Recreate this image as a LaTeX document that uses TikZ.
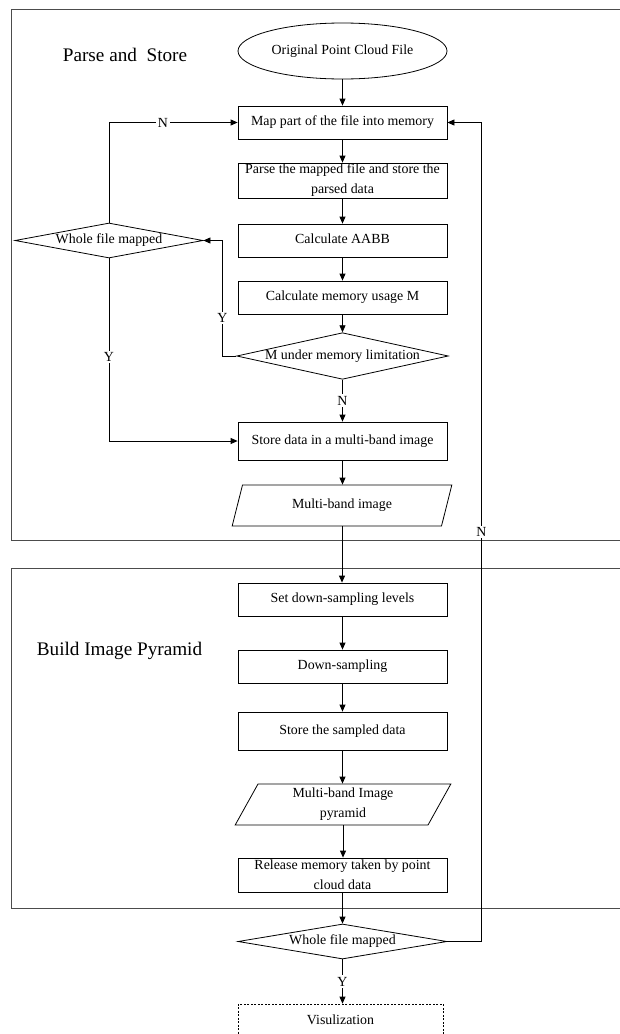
\documentclass[tikz,border=0pt]{standalone}
\usepackage{fontspec}
\setmainfont{Liberation Serif}
\usetikzlibrary{shapes.geometric,arrows.meta}
\begin{document}
\begin{tikzpicture}[x=1pt,y=-1pt,
  every node/.style={font=\fontsize{13.9}{20}\selectfont},
  frame/.style={draw=black!70,line width=0.9pt},
  procbox/.style={draw,line width=0.8pt,rectangle,minimum width=209pt,minimum height=#1,inner sep=0pt},
  procbox/.default=33pt,
  oneline/.style={text height=9.5pt,text depth=3pt},
  twoline/.style={align=center},
  decision/.style={draw,line width=0.8pt,diamond,minimum width=#1,inner sep=0pt,text height=9.5pt,text depth=3pt},
  iobox/.style={draw,line width=0.8pt,trapezium,trapezium left angle=67.5,trapezium right angle=112.5,
    trapezium stretches=true,minimum width=220pt,minimum height=41pt,inner sep=0pt},
  title/.style={font=\fontsize{19.2}{23}\selectfont},
  arr/.style={draw,line width=0.8pt,-{Triangle[length=7pt,width=6pt]}},
  lbl/.style={fill=white,inner sep=1.5pt,text height=9.5pt,text depth=0pt}
]
\useasboundingbox (0,0) rectangle (620,1034);

% stage frames
\draw[frame] (11,9) rectangle (650,540);
\draw[frame] (11,568) rectangle (650,908);
\node[title] (t1) at (125,55) {Parse and~~Store};
\node[title] (t2) at (119.5,651) {Build Image Pyramid};

% parse and store stage
\node[draw,line width=0.8pt,ellipse,minimum width=209pt,minimum height=56pt,inner sep=0pt,oneline] (src) at (342.5,51) {Original Point Cloud File};
\node[procbox,oneline] (map) at (342.5,122.5) {Map part of the file into memory};
\node[procbox=35pt,twoline] (parse) at (342.5,180.5) {Parse the mapped file and store the\\parsed data};
\node[procbox,oneline] (aabb) at (342.5,240.5) {Calculate AABB};
\node[procbox,oneline] (mem) at (342.5,297.5) {Calculate memory usage M};
\node[decision=209pt,minimum height=46pt,aspect=4.54] (lim) at (342.5,356) {M under memory limitation};
\node[decision=188pt,minimum height=35pt,aspect=5.37] (whole1) at (109,240.5) {Whole file mapped};
\node[procbox=38pt,oneline] (store) at (342.5,441) {Store data in a multi-band image};
\node[iobox,oneline] (mbi) at (342,505.5) {Multi-band image};

% pyramid stage
\node[procbox,oneline] (levels) at (342.5,599.5) {Set down-sampling levels};
\node[procbox,oneline] (down) at (342.5,666.5) {Down-sampling};
\node[procbox=38pt,oneline] (sampled) at (342.5,731) {Store the sampled data};
\node[iobox,minimum width=216pt,twoline] (pyr) at (343,804.5) {Multi-band Image\\pyramid};
\node[procbox=34pt,twoline] (rel) at (342.5,875) {Release memory taken by point\\cloud data};

% final check and output
\node[decision=209pt,minimum height=35pt,aspect=5.97] (whole2) at (342.5,941.5) {Whole file mapped};
\node[draw,dashed,dash pattern=on 2pt off 1.5pt,line width=0.7pt,rectangle,minimum width=205pt,minimum height=35pt,inner sep=0pt,oneline] (vis) at (340.5,1021.5) {Visulization};

% main flow
\draw[arr] (src) -- (map);
\draw[arr] (map) -- (parse);
\draw[arr] (parse) -- (aabb);
\draw[arr] (aabb) -- (mem);
\draw[arr] (mem) -- (lim);
\draw[arr] (lim) -- node[lbl]{N} (store);
\draw[arr] (store) -- (store.south |- mbi.north);
\draw[arr] (mbi.south) -- (mbi.south |- levels.north);
\draw[arr] (levels) -- (down);
\draw[arr] (down) -- (sampled);
\draw[arr] (sampled) -- (sampled.south |- pyr.north);
\draw[arr] (pyr.south) -- (pyr.south |- rel.north);
\draw[arr] (rel) -- (whole2);
\draw[arr] (whole2.south) -- node[lbl]{Y} (whole2.south |- vis.north);

% loops and branches
\draw[arr] (lim.west) -- ++(-14,0) |- node[lbl,pos=0.165]{Y} (whole1.east);
\draw[arr] (whole1.north) |- node[lbl,pos=0.71]{N} (map.west);
\draw[arr] (whole1.south) |- node[lbl,pos=0.27]{Y} (store.west);
\draw[arr] (whole2.east) -- ++(34,0) |- node[lbl,pos=0.25]{N} (map.east);
\end{tikzpicture}
\end{document}
